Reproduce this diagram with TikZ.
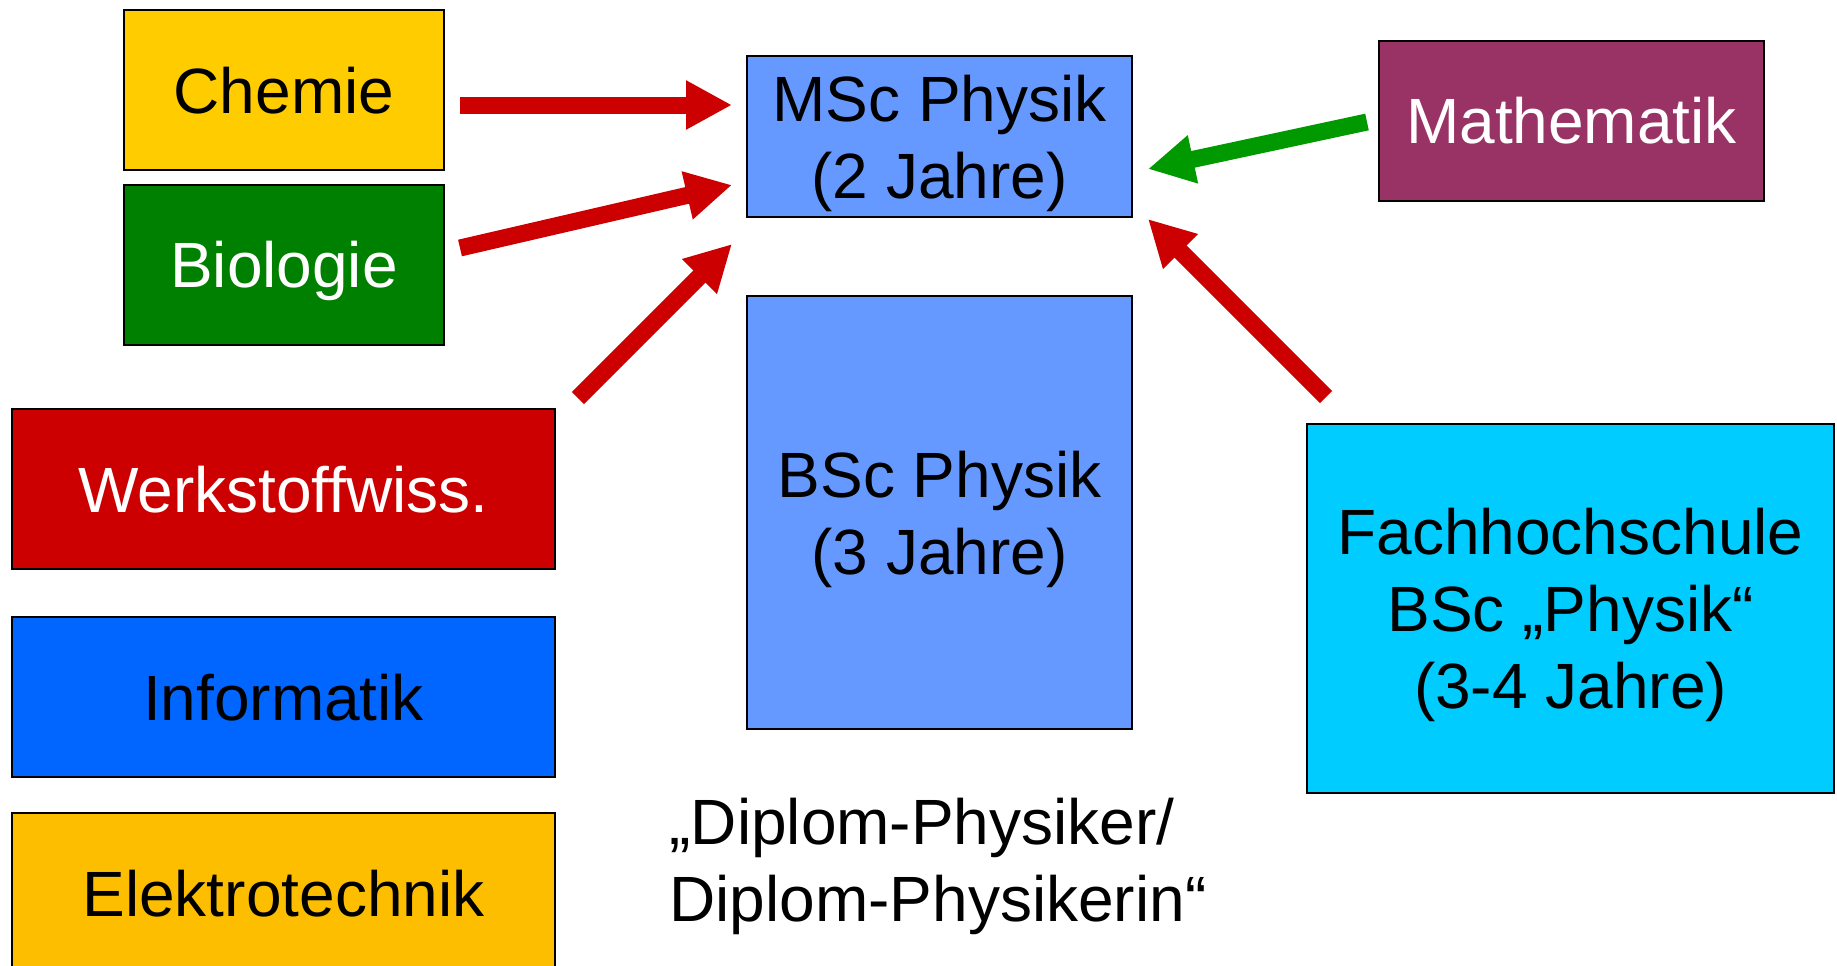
\documentclass[tikz,border=0pt]{standalone}
\usepackage{fontspec}
\setmainfont{Liberation Sans}
\definecolor{chemgelb}{RGB}{255, 204, 0}
\definecolor{biogruen}{RGB}{0, 128, 0}
\definecolor{werkrot}{RGB}{204, 0, 0}
\definecolor{infoblau}{RGB}{0, 102, 255}
\definecolor{etorange}{RGB}{253, 190, 0}
\definecolor{physblau}{RGB}{102, 153, 255}
\definecolor{mathlila}{RGB}{153, 51, 102}
\definecolor{fhcyan}{RGB}{0, 204, 255}
\definecolor{pfeilgruen}{RGB}{0, 153, 0}
\usetikzlibrary{arrows.meta}

\begin{document}
\begin{tikzpicture}[
  x=0.5pt, y=-0.5pt,
  schrift/.style={align=center, font=\fontsize{32}{38.5}\selectfont},
  fachbox/.style={schrift, draw, line width=1pt, inner sep=0pt, text depth=0pt},
  wechsel/.style={line width=8.5pt, -{Triangle[length=23pt, width=23pt]}}
]
  \useasboundingbox (0,0) rectangle (1837,965);

  \node[fachbox, fill=chemgelb, minimum width=160pt, minimum height=80pt] (chemie) at (284, 90) {Chemie};
  \node[fachbox, fill=biogruen, text=white, minimum width=160pt, minimum height=80pt] (bio) at (284, 264.5) {Biologie};
  \node[fachbox, fill=werkrot, text=white, minimum width=271.5pt, minimum height=80pt] (werk) at (283.5, 489) {Werkstoffwiss.};
  \node[fachbox, fill=infoblau, minimum width=271.5pt, minimum height=80pt] (info) at (283.5, 697) {Informatik};
  \node[fachbox, fill=etorange, minimum width=271.5pt, minimum height=80pt] (etech) at (283.5, 893) {Elektrotechnik};

  \node[fachbox, fill=physblau, minimum width=192.5pt, minimum height=80.5pt] (msc) at (939.5, 136.5) {MSc Physik\\(2 Jahre)};
  \node[fachbox, fill=physblau, minimum width=192.5pt, minimum height=216.5pt] (bsc) at (939.5, 512.5) {BSc Physik\\(3 Jahre)};
  \node[schrift, align=left] (diplom) at (938, 866) {„Diplom-Physiker/\\Diplom-Physikerin“};

  \node[fachbox, fill=mathlila, text=white, minimum width=192.5pt, minimum height=80pt] (mathe) at (1571.5, 120.5) {Mathematik};
  \node[fachbox, fill=fhcyan, minimum width=263.5pt, minimum height=184.5pt] (fh) at (1570.5, 608.5) {Fachhochschule\\BSc „Physik“\\(3-4 Jahre)};

  \coordinate (chemie-aus) at (460, 105);
  \coordinate (bio-aus) at (460, 248);
  \coordinate (werk-aus) at (578, 398);
  \coordinate (mathe-aus) at (1367, 122);
  \coordinate (fh-aus) at (1326, 397);
  \coordinate (msc-ein1) at (732, 105);
  \coordinate (msc-ein2) at (732, 185);
  \coordinate (msc-ein3) at (732, 244);
  \coordinate (msc-ein4) at (1148, 169);
  \coordinate (msc-ein5) at (1148, 219);

  \draw[wechsel, werkrot] (chemie-aus) -- (msc-ein1);
  \draw[wechsel, werkrot] (bio-aus) -- (msc-ein2);
  \draw[wechsel, werkrot] (werk-aus) -- (msc-ein3);
  \draw[wechsel, pfeilgruen] (mathe-aus) -- (msc-ein4);
  \draw[wechsel, werkrot] (fh-aus) -- (msc-ein5);
\end{tikzpicture}
\end{document}
